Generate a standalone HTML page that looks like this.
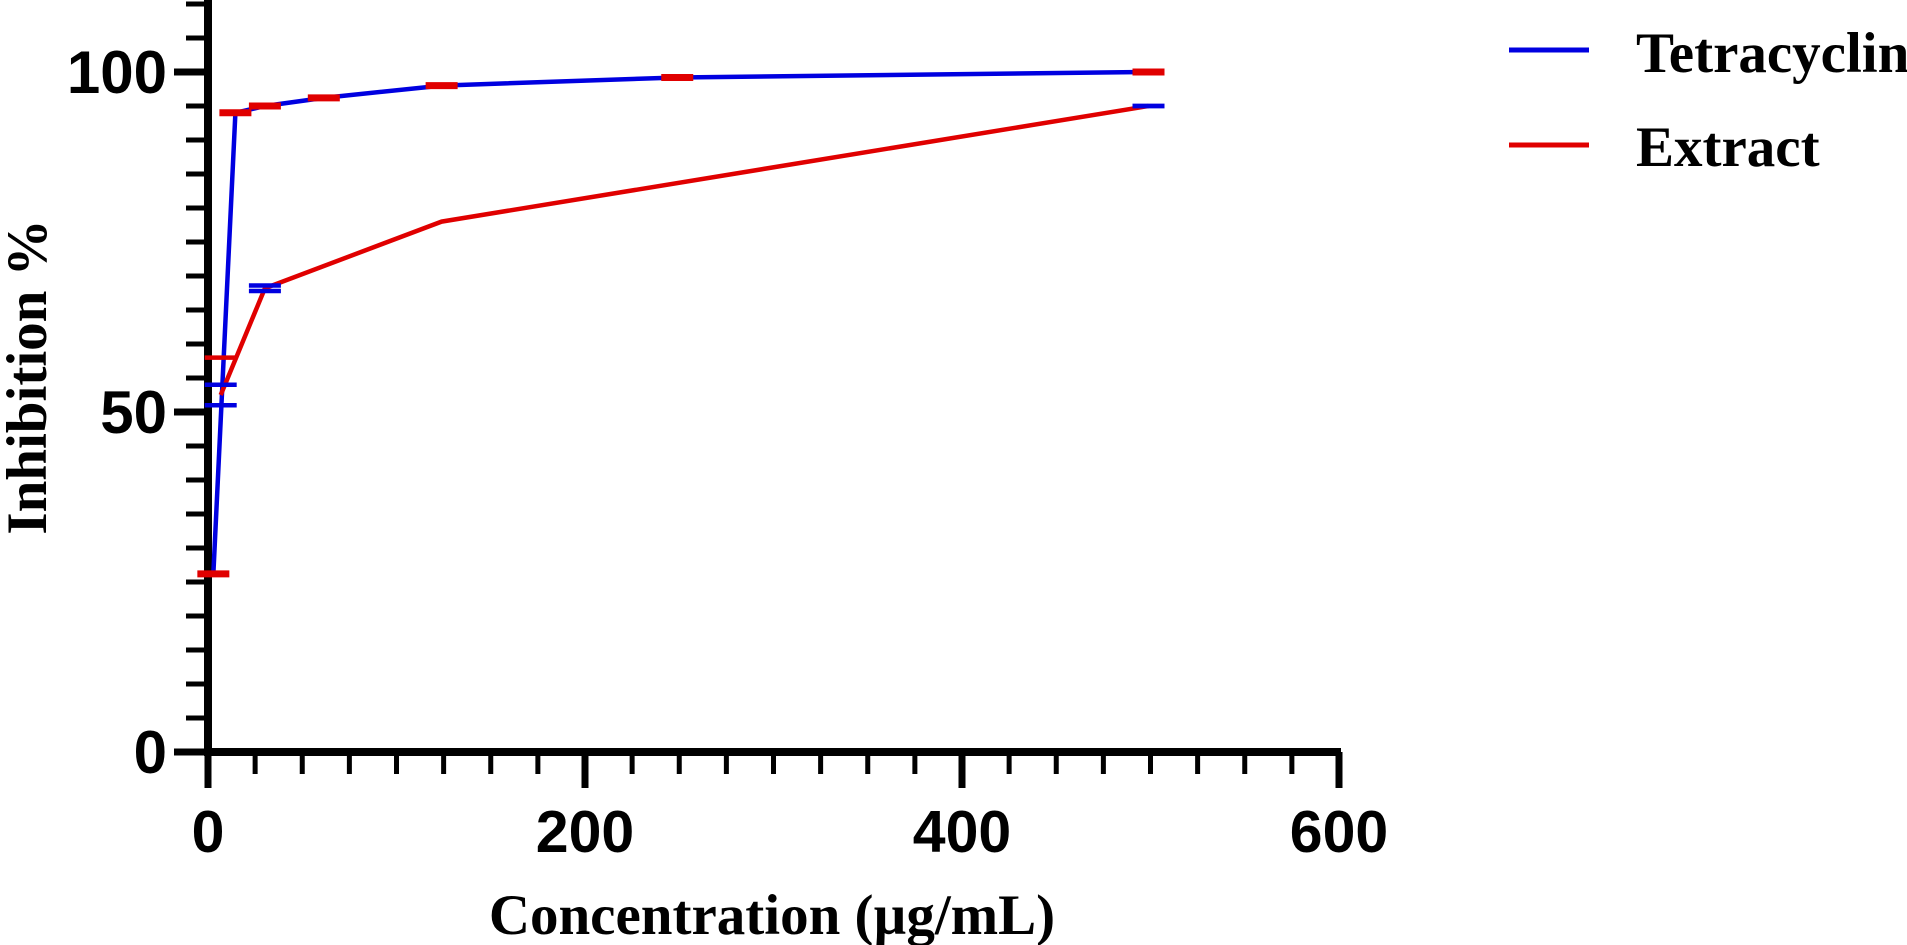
<!DOCTYPE html>
<html><head><meta charset="utf-8"><style>
html,body{margin:0;padding:0;background:#fff;}
svg{display:block;}
</style></head><body>
<svg id="chart" width="1907" height="945" viewBox="0 0 1907 945" xmlns="http://www.w3.org/2000/svg">
<g id="axes"></g>
<g id="series"></g>
<g>
  <line x1="1509" y1="50" x2="1589" y2="50" stroke="#0000e0" stroke-width="5"/>
  <text x="1636" y="72" font-family="Liberation Serif, serif" font-weight="bold" font-size="57">Tetracyclin</text>
  <line x1="1509" y1="145" x2="1589" y2="145" stroke="#e00000" stroke-width="5"/>
  <text x="1636" y="166" font-family="Liberation Serif, serif" font-weight="bold" font-size="57">Extract</text>
</g>
<text x="772" y="934" text-anchor="middle" font-family="Liberation Serif, serif" font-weight="bold" font-size="57">Concentration (µg/mL)</text>
<text transform="translate(46,377) rotate(-90)" text-anchor="middle" font-family="Liberation Serif, serif" font-weight="bold" font-size="57">Inhibition %</text>
</svg>
<script>
const xTicks = [0, 200, 400, 600];
const yTicks = [0, 50, 100];
const tetraX = [3.9, 15.6, 31.25, 62.5, 125, 250, 500];
const tetraY = [26.2, 94, 95, 96.2, 98, 99.2, 100];
const extractX = [7.8, 31.25, 125, 500];
const extractY = [52.5, 68.2, 78, 95];
const extractErrLow = [51, 67.8, 78, 95];
const extractErrHigh = [54, 68.6, 78, 95];
const extractCapShown = [true, true, false, true];
const strayCapX = [7.8];
const strayCapY = [58];

const sx = v => 206 + v * 1.885;
const sy = v => 752 - v * 6.8;
const NS = 'http://www.w3.org/2000/svg';
function mk(tag, attrs, parent){const e=document.createElementNS(NS,tag);for(const k in attrs)e.setAttribute(k,attrs[k]);parent.appendChild(e);return e;}

const axes = document.getElementById('axes');
let e;
e = mk('line',{x1:sx(0)+2,y1:0,x2:sx(0)+2,y2:sy(0)+4,stroke:'#000','stroke-width':8},axes);


e = mk('line',{x1:sx(0)-1,y1:sy(0),x2:sx(600)+4,y2:sy(0),stroke:'#000','stroke-width':8},axes);


for(let v=0; v<=600; v+=25){
  const major = v%200===0;
  e = mk('line',{x1:sx(v)+2,y1:sy(0),x2:sx(v)+2,y2:sy(0)+(major?36:22),stroke:'#000','stroke-width':major?7:5},axes);
  
  
}
for(let v=0; v<=110; v+=5){
  const major = v%50===0;
  e = mk('line',{x1:sx(0)+2,y1:sy(v),x2:sx(0)-(major?32:20),y2:sy(v),stroke:'#000','stroke-width':major?7:5},axes);
  
  
}
xTicks.forEach(t=>{
  e = mk('text',{x:sx(t)+2,y:852,'text-anchor':'middle','font-family':'Liberation Sans, sans-serif','font-weight':'bold','font-size':59},axes);
  e.textContent = t;
  
  
});
yTicks.forEach(t=>{
  e = mk('text',{x:167,y:sy(t)+21,'text-anchor':'end','font-family':'Liberation Sans, sans-serif','font-weight':'bold','font-size':60},axes);
  e.textContent = t;
  
  
});

const series = document.getElementById('series');
e = mk('polyline',{points:tetraX.map((x,i)=>sx(x)+','+sy(tetraY[i])).join(' '),fill:'none',stroke:'#0000e0','stroke-width':4.5},series);


e = mk('polyline',{points:extractX.map((x,i)=>sx(x)+','+sy(extractY[i])).join(' '),fill:'none',stroke:'#e00000','stroke-width':4.5},series);


tetraX.forEach((x,i)=>{
  e = mk('line',{x1:sx(x)-16,y1:sy(tetraY[i]),x2:sx(x)+16,y2:sy(tetraY[i]),stroke:'#e00000','stroke-width':7},series);
  
  
});
extractX.forEach((x,i)=>{
  if(!extractCapShown[i]) return;
  [extractErrLow[i],extractErrHigh[i]].forEach(v=>{
    e = mk('line',{x1:sx(x)-16,y1:sy(v),x2:sx(x)+16,y2:sy(v),stroke:'#0000e0','stroke-width':4.5},series);
    
    
  });
});
strayCapX.forEach((x,i)=>{
  e = mk('line',{x1:sx(x)-16,y1:sy(strayCapY[i]),x2:sx(x)+16,y2:sy(strayCapY[i]),stroke:'#e00000','stroke-width':4.5},series);
  
  
});
</script>
</body></html>
